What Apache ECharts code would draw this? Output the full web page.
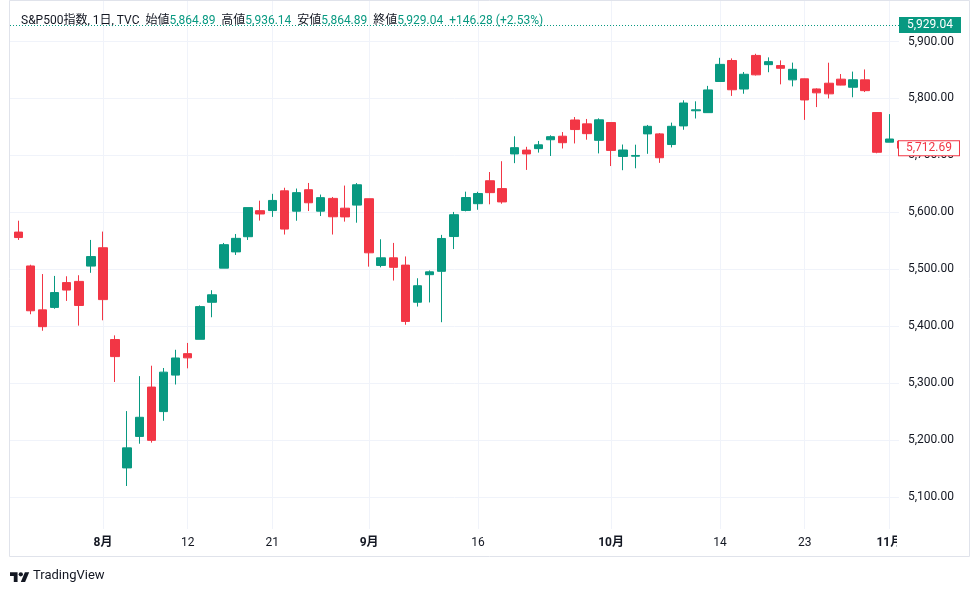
<!DOCTYPE html>
<html><head><meta charset="utf-8">
<script src="https://cdn.jsdelivr.net/npm/echarts@6/dist/echarts.min.js"></script>
<style>html,body{margin:0;padding:0;background:#fff}#c{width:980px;height:591px}</style>
</head><body><div id="c"></div>
<script>
// ---- data ----
const dates = ['2024-07-23','2024-07-24','2024-07-25','2024-07-26','2024-07-29','2024-07-30','2024-07-31',
'2024-08-01','2024-08-02','2024-08-05','2024-08-06','2024-08-07','2024-08-08','2024-08-09',
'2024-08-12','2024-08-13','2024-08-14','2024-08-15','2024-08-16','2024-08-19','2024-08-20',
'2024-08-21','2024-08-22','2024-08-23','2024-08-26','2024-08-27','2024-08-28','2024-08-29','2024-08-30',
'2024-09-03','2024-09-04','2024-09-05','2024-09-06','2024-09-09','2024-09-10','2024-09-11','2024-09-12','2024-09-13',
'2024-09-16','2024-09-17','2024-09-18','2024-09-19','2024-09-20','2024-09-23','2024-09-24','2024-09-25','2024-09-26','2024-09-27','2024-09-30',
'2024-10-01','2024-10-02','2024-10-03','2024-10-04','2024-10-07','2024-10-08','2024-10-09','2024-10-10','2024-10-11',
'2024-10-14','2024-10-15','2024-10-16','2024-10-17','2024-10-18','2024-10-21','2024-10-22',
'2024-10-23','2024-10-24','2024-10-25','2024-10-28','2024-10-29','2024-10-30','2024-10-31',
'2024-11-01','2024-11-04'];
const opens  = [5565.3,5505.8,5428.7,5433.0,5476.6,5478.7,5505.6,5537.8,5376.6,5151.1,5206.4,5293.1,5250.0,5314.1,
5351.8,5377.0,5442.0,5502.0,5530.5,5557.2,5602.9,5603.1,5637.8,5602.0,5639.7,5602.0,5624.5,5607.3,5612.7,
5623.9,5506.7,5520.1,5507.3,5442.1,5490.5,5496.4,5557.5,5603.3,5615.2,5655.5,5641.7,5702.6,5709.3,5711.9,5727.5,5733.7,5762.2,5755.4,5726.5,
5757.7,5698.2,5698.6,5737.8,5737.8,5719.1,5751.8,5778.4,5775.1,5829.8,5866.7,5816.6,5875.6,5859.4,5857.8,5832.7,
5834.5,5816.7,5826.8,5833.9,5819.7,5832.7,5775.3,5723.2,5725.2];
const highs  = [5585.3,5508.0,5491.6,5488.3,5487.7,5489.5,5551.5,5566.2,5383.9,5250.9,5312.3,5330.6,5326.6,5358.6,
5370.6,5436.5,5463.2,5546.2,5562.0,5608.3,5620.5,5632.5,5643.2,5641.8,5651.6,5631.2,5627.0,5647.0,5651.4,
5623.9,5552.7,5546.3,5522.5,5484.2,5497.9,5560.4,5600.7,5636.3,5636.1,5670.8,5689.8,5733.6,5715.1,5725.4,5735.3,5741.0,5767.4,5764.0,5765.1,
5757.7,5719.1,5718.8,5753.5,5739.3,5757.6,5796.8,5795.0,5822.1,5871.4,5870.4,5846.5,5878.5,5872.2,5866.9,5863.0,
5834.9,5817.8,5862.8,5842.9,5847.2,5851.0,5775.3,5772.5,5741.4];
const lows   = [5551.5,5421.0,5392.0,5430.7,5444.4,5401.0,5493.8,5410.4,5302.0,5119.3,5193.6,5195.5,5233.9,5297.6,
5326.0,5377.0,5415.7,5502.0,5525.2,5551.5,5585.5,5592.0,5561.0,5585.2,5602.3,5593.5,5561.0,5583.7,5581.8,
5504.6,5503.4,5480.2,5402.6,5434.5,5441.7,5407.0,5535.5,5601.7,5604.5,5614.1,5615.1,5686.4,5674.5,5704.9,5699.0,5712.1,5721.0,5727.6,5703.5,
5681.3,5674.0,5677.4,5702.8,5686.9,5714.0,5745.0,5764.8,5775.1,5829.8,5804.5,5808.3,5840.3,5846.1,5824.8,5821.2,
5762.4,5784.9,5800.0,5823.1,5802.1,5811.3,5703.7,5723.2,5696.5];
const closes = [5555.7,5427.1,5399.2,5459.1,5463.5,5436.4,5522.3,5446.7,5346.6,5186.3,5240.0,5199.5,5319.3,5344.2,
5344.4,5434.4,5455.2,5543.2,5554.3,5608.3,5597.1,5620.9,5570.6,5634.6,5616.8,5625.8,5592.2,5592.0,5648.4,
5528.9,5520.1,5503.4,5408.4,5471.1,5495.5,5554.1,5595.8,5626.0,5633.1,5634.6,5618.3,5713.6,5702.6,5718.6,5732.9,5722.3,5745.4,5738.2,5762.5,
5708.8,5709.5,5699.9,5751.1,5695.9,5751.1,5792.0,5780.1,5815.0,5859.9,5815.3,5842.5,5841.5,5864.7,5853.0,5851.2,
5797.4,5809.9,5808.1,5823.5,5832.9,5813.7,5705.5,5728.8,5712.7];
const tickIdx  = [7, 14, 21, 29, 38, 49, 58, 65, 72];
const tickText = ['8月','12','21','9月','16','10月','14','23','11月'];
const monthTicks = ['8月','9月','10月','11月'];
const yTicks = [5100, 5200, 5300, 5400, 5500, 5600, 5700, 5800, 5900];
const lastPrice = 5929.04;
const prevClose = 5712.69;
const headerTitle = 'S&P500指数, 1日, TVC';
const headerLabels = ['始値', '高値', '安値', '終値'];
const headerValues = ['5,864.89', '5,936.14', '5,864.89', '5,929.04'];
const headerChange = '+146.28 (+2.53%)';

// ---- chart ----
const FONT = "Roboto, 'Noto Sans CJK JP', sans-serif";
const UP = '#089981', DOWN = '#F23645', TXT = '#131722', GRID = '#F0F3FA';
const fmt = v => Number(v).toLocaleString('en-US', {minimumFractionDigits: 2, maximumFractionDigits: 2});
const candles = dates.map((d, i) => [i, opens[i], closes[i], lows[i], highs[i]]);
const lastPoint = [[dates.length - 1, closes[closes.length - 1]]];
const Y_MIN = 5043.8, Y_MAX = 5971.2;

let headerText = '{n|' + headerTitle + '}';
headerLabels.forEach((l, i) => { headerText += '  {n|' + l + '}{g|' + headerValues[i] + '}'; });
headerText += '  {g|' + headerChange + '}';

const chart = echarts.init(document.getElementById('c'), null, {renderer: 'canvas'});
chart.setOption({
  animation: false,
  backgroundColor: '#ffffff',
  title: {
    left: 16, top: 10, text: headerText,
    textStyle: {
      fontFamily: FONT, fontSize: 12, fontWeight: 'normal',
      rich: {
        n: {color: TXT, fontFamily: FONT, fontSize: 12},
        g: {color: UP, fontFamily: FONT, fontSize: 12}
      }
    }
  },
  grid: {left: 10, top: 1, right: 81, bottom: 62},
  xAxis: {
    type: 'value', min: -0.686, max: 72.8, z: 1,
    axisLine: {show: false},
    axisTick: {show: false, customValues: tickIdx},
    axisLabel: {
      customValues: tickIdx, margin: 8,
      formatter: v => {
        const k = tickIdx.indexOf(Math.round(v));
        const t = k >= 0 ? tickText[k] : '';
        return monthTicks.includes(t) ? '{b|' + t + '}' : '{r|' + t + '}';
      },
      rich: {
        b: {color: TXT, fontSize: 12, fontWeight: 'bold', fontFamily: FONT},
        r: {color: TXT, fontSize: 12, fontFamily: FONT}
      }
    },
    splitLine: {show: true, lineStyle: {color: GRID, width: 1}}
  },
  yAxis: [{
    // grid lines (below candles)
    type: 'value', position: 'right', min: Y_MIN, max: Y_MAX, z: 0,
    axisLine: {show: false},
    axisTick: {show: false, customValues: yTicks},
    axisLabel: {show: false, customValues: yTicks},
    splitLine: {show: true, lineStyle: {color: GRID, width: 1}}
  }, {
    // price labels (above the right-hand panel)
    type: 'value', position: 'right', min: Y_MIN, max: Y_MAX, z: 10,
    axisLine: {show: false},
    axisTick: {show: false, customValues: yTicks},
    axisLabel: {customValues: yTicks, formatter: fmt, margin: 9, color: TXT, fontSize: 12, fontFamily: FONT},
    splitLine: {show: false}
  }],
  series: [{
    type: 'candlestick', data: candles, encode: {x: 0, y: [1, 2, 3, 4]}, z: 2, yAxisIndex: 0,
    barWidth: 9, clip: true,
    itemStyle: {color: UP, color0: DOWN, borderColor: UP, borderColor0: DOWN, borderWidth: 1}
  }, {
    type: 'scatter', data: lastPoint, z: 20, silent: true, symbolSize: 0, yAxisIndex: 0,
    itemStyle: {opacity: 0}, tooltip: {show: false},
    markLine: {
      z: 50, symbol: ['none', 'none'], silent: true, animation: false,
      data: [
        {yAxis: lastPrice, lineStyle: {color: UP, type: [1, 2], width: 1},
         label: {show: true, position: 'end', distance: 0, formatter: () => fmt(lastPrice),
                 color: '#fff', backgroundColor: UP, padding: [2, 8, 2, 8], fontSize: 12, fontFamily: FONT}},
        {yAxis: prevClose, lineStyle: {color: 'rgba(255,255,255,0)', width: 1, type: 'solid'},
         label: {show: true, position: 'end', distance: 0, formatter: () => fmt(prevClose),
                 color: DOWN, backgroundColor: '#fff', borderColor: DOWN, borderWidth: 1,
                 padding: [1, 7, 1, 7], fontSize: 12, fontFamily: FONT}}
      ]
    }
  }],
  graphic: [
    {type: 'rect', z: 5, shape: {x: 899, y: 1, width: 70, height: 555}, style: {fill: '#fff'}},
    {type: 'rect', z: 5, shape: {x: 897, y: 530, width: 3, height: 26}, style: {fill: '#fff'}},
    {type: 'rect', z: 60, shape: {x: 9.5, y: 0.5, width: 960, height: 556}, style: {fill: 'none', stroke: '#E0E3EB', lineWidth: 1}},
    {type: 'group', x: 10, y: 570, scaleX: 0.54, scaleY: 0.54, children: [
      {type: 'polygon', shape: {points: [[0, 4], [14, 4], [14, 22], [7, 22], [7, 11], [0, 11]]}, style: {fill: TXT}},
      {type: 'circle', shape: {cx: 20, cy: 8, r: 4}, style: {fill: TXT}},
      {type: 'polygon', shape: {points: [[27.5, 4], [35.5, 4], [28, 22], [20, 22]]}, style: {fill: TXT}}
    ]},
    {type: 'text', x: 33, y: 576, style: {text: 'TradingView', fill: TXT, font: "13px Roboto, sans-serif", textVerticalAlign: 'middle'}}
  ]
});
</script></body></html>
